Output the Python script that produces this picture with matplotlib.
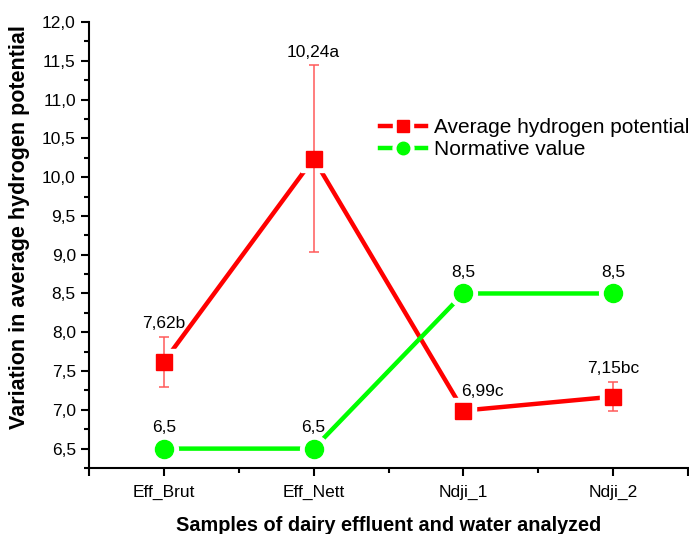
import matplotlib
matplotlib.use("Agg")
import matplotlib.pyplot as plt
from matplotlib.ticker import MultipleLocator, FuncFormatter, FixedLocator
from matplotlib.lines import Line2D

plt.rcParams['font.family'] = ['Liberation Sans', 'DejaVu Sans']

categories = ["Eff_Brut", "Eff_Nett", "Ndji_1", "Ndji_2"]
ph_mean = [7.62, 10.24, 6.99, 7.17]
ph_err = [0.32, 1.20, 0.0, 0.19]
ph_labels = ["7,62b", "10,24a", "6,99c", "7,15bc"]
norm_vals = [6.5, 6.5, 8.5, 8.5]
norm_labels = ["6,5", "6,5", "8,5", "8,5"]

RED = "#ff0000"
GREEN = "#00ff00"
ERRC = "#ff5a5a"

fig = plt.figure(figsize=(6.89, 5.34), dpi=100)
ax = fig.add_axes([89/689, 66/534, 599/689, 446/534])

x = list(range(1, len(categories) + 1))

# lines
ax.plot(x, ph_mean, color=RED, lw=3.2, zorder=2)
ax.plot(x, norm_vals, color=GREEN, lw=3.2, zorder=2)
# white halos to create gaps (Origin style)
ax.plot(x, ph_mean, ls='none', marker='s', ms=19, mfc='white', mec='white', zorder=3)
ax.plot(x, norm_vals, ls='none', marker='o', ms=20, mfc='white', mec='white', zorder=3)
# error bars
ax.errorbar(x, ph_mean, yerr=ph_err, fmt='none', ecolor=ERRC, elinewidth=1.1,
            capsize=3.5, capthick=1.1, zorder=4)
# markers
ax.plot(x, ph_mean, ls='none', marker='s', ms=11.5, mfc=RED, mec=RED, zorder=5)
ax.plot(x, norm_vals, ls='none', marker='o', ms=13, mfc=GREEN, mec=GREEN, zorder=5)

# value labels
for xi, v, e, lab in zip(x, ph_mean, ph_err, ph_labels):
    if e > 0:
        ax.annotate(lab, (xi, v + e), xytext=(0, 13), textcoords='offset pixels',
                    ha='center', va='center', fontsize=12.5, zorder=6)
    else:
        ax.annotate(lab, (xi, v), xytext=(19, 19), textcoords='offset pixels',
                    ha='center', va='center', fontsize=12.5, zorder=6)
for xi, v, lab in zip(x, norm_vals, norm_labels):
    ax.annotate(lab, (xi, v), xytext=(0, 21), textcoords='offset pixels',
                ha='center', va='center', fontsize=12.5, zorder=6)

ax.set_xlim(0.5, 4.5)
ax.set_ylim(6.25, 12.0)

ax.xaxis.set_major_locator(FixedLocator([0.5] + x + [4.5]))
ax.set_xticklabels([""] + categories + [""])
ax.xaxis.set_minor_locator(FixedLocator([1.5, 2.5, 3.5]))
ax.yaxis.set_major_locator(MultipleLocator(0.5))
ax.yaxis.set_minor_locator(MultipleLocator(0.25))
ax.yaxis.set_major_formatter(FuncFormatter(lambda v, p: f"{v:.1f}".replace('.', ',')))

ax.tick_params(axis='both', which='major', direction='out', length=6, width=1.5,
               labelsize=12.5, color='black')
ax.tick_params(axis='both', which='minor', direction='out', length=3.5, width=1.5)
ax.tick_params(axis='x', pad=6)

for s in ['top', 'right']:
    ax.spines[s].set_visible(False)
for s in ['left', 'bottom']:
    ax.spines[s].set_linewidth(1.5)

ax.set_xlabel("Samples of dairy effluent and water analyzed", fontsize=14.3,
              fontweight='bold', labelpad=12)
ax.set_ylabel("Variation in average hydrogen potential", fontsize=15.5,
              fontweight='bold')
ax.yaxis.set_label_coords(-0.0985, 0.54)

# legend with gap-style handles
def handle(color, marker, ms):
    l = Line2D([], [], color=color, lw=3.2)
    h = Line2D([], [], ls='none', marker=marker, ms=ms + 6, mfc='white', mec='white')
    m = Line2D([], [], ls='none', marker=marker, ms=ms, mfc=color, mec=color)
    return (l, h, m)

leg = ax.legend([handle(RED, 's', 8), handle(GREEN, 'o', 9)],
                ["Average hydrogen potential", "Normative value"],
                loc='upper left', bbox_to_anchor=(0.486, 0.785), frameon=False,
                fontsize=15, handlelength=2.2, handletextpad=0.4,
                labelspacing=0.15, borderaxespad=0, borderpad=0)

fig.savefig("out.png", dpi=100)
